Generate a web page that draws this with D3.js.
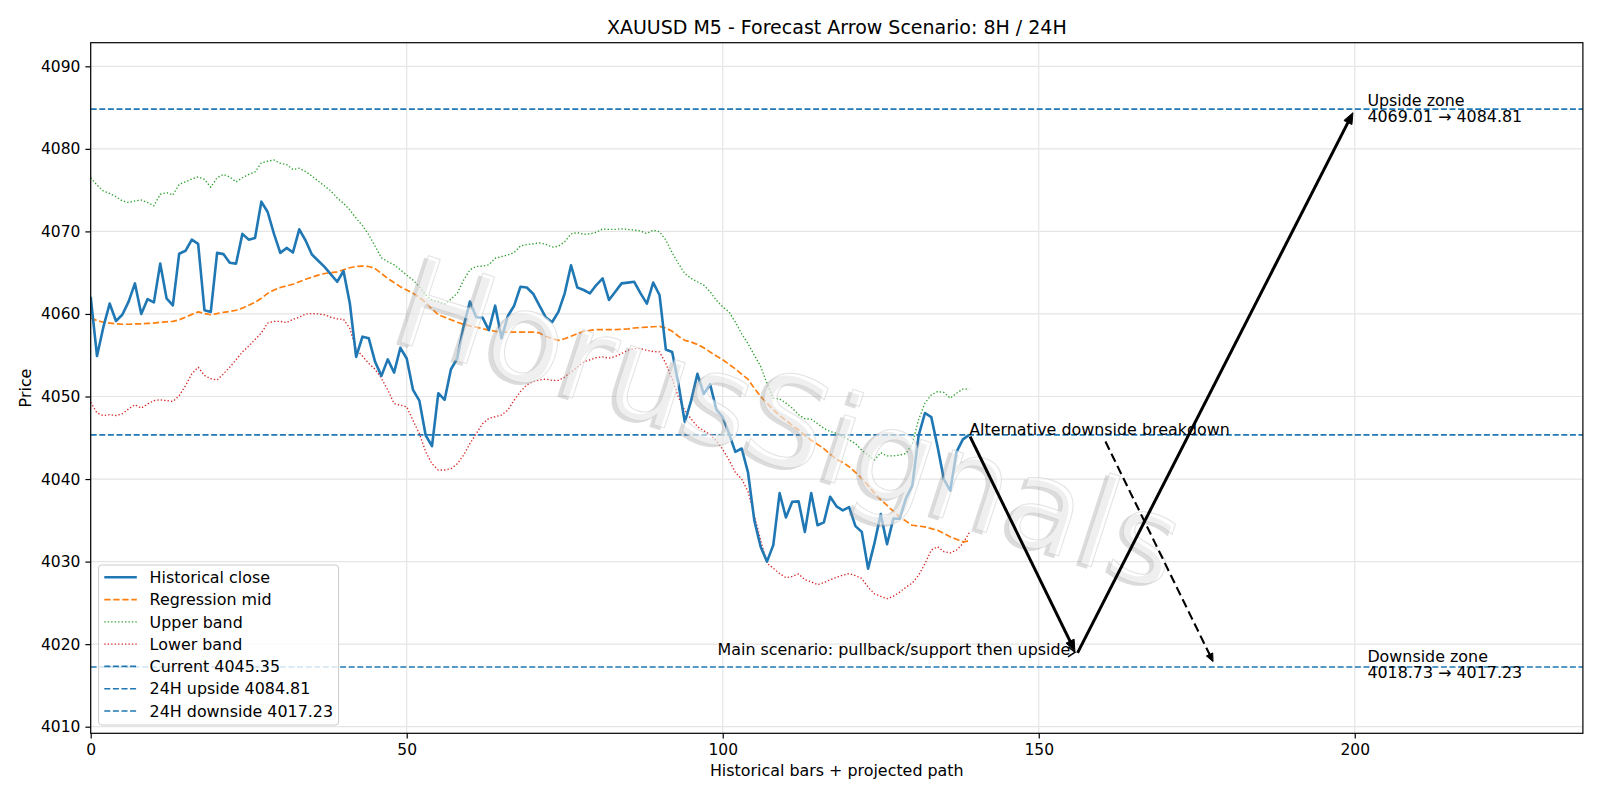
<!DOCTYPE html>
<html>
<head>
<meta charset="utf-8">
<script src="https://cdn.jsdelivr.net/npm/d3@7"></script>
<style>
  html, body { margin: 0; padding: 0; background: #fff; }
  svg { display: block; font-family: "DejaVu Sans", sans-serif; }
</style>
</head>
<body>
<svg id="chart" width="1600" height="800"></svg>
<script>
// ---------------- DATA ----------------
const titleText = "XAUUSD M5 - Forecast Arrow Scenario: 8H / 24H";
const xLabel = "Historical bars + projected path";
const yLabel = "Price";
const xTicks = [0, 50, 100, 150, 200];
const yTicks = [4010, 4020, 4030, 4040, 4050, 4060, 4070, 4080, 4090];
const xDomain = [0, 236.1];
const yDomain = [4009.2, 4092.86];

const closeVals = [4062.06,4054.9,4058.4,4061.26,4059.15,4059.9,4061.5,4063.7,4060.0,4061.8,
4061.4,4066.1,4061.9,4061.05,4067.3,4067.65,4069.0,4068.5,4060.45,4060.25,
4067.4,4067.25,4066.2,4066.1,4069.7,4069.0,4069.2,4073.6,4072.35,4069.7,
4067.4,4068.0,4067.45,4070.25,4068.9,4067.2,4066.45,4065.7,4064.8,4063.9,
4065.2,4061.3,4054.8,4057.25,4057.05,4054.2,4052.5,4054.5,4052.9,4055.9,
4054.6,4050.8,4049.5,4045.3,4044.0,4050.4,4049.6,4053.3,4054.6,4058.5,
4061.5,4059.6,4059.55,4058.05,4061.0,4057.05,4059.75,4061.0,4063.3,4063.2,
4062.45,4061.0,4059.6,4059.0,4060.25,4062.5,4065.9,4063.2,4062.9,4062.5,
4063.5,4064.3,4061.7,4062.7,4063.7,4063.8,4063.9,4062.5,4061.25,4063.8,
4062.3,4055.7,4055.4,4051.5,4046.9,4049.5,4052.75,4050.3,4051.5,4048.4,
4047.5,4045.5,4043.3,4043.7,4040.8,4035.0,4031.8,4030.0,4032.0,4038.3,
4035.35,4037.25,4037.3,4033.6,4038.3,4034.4,4034.75,4037.85,4036.7,4036.2,
4036.6,4034.3,4033.6,4029.15,4032.2,4035.75,4032.1,4035.2,4035.2,4037.65,
4039.2,4045.3,4048.0,4047.5,4043.9,4039.95,4038.6,4043.3,4044.8,4045.35];

const midVals = [4059.5,4059.2,4059.0,4058.9,4058.8,4058.75,4058.75,4058.8,4058.8,4058.85,
4058.9,4059.0,4059.05,4059.1,4059.3,4059.6,4059.95,4060.25,4060.05,4059.9,
4060.05,4060.2,4060.3,4060.45,4060.7,4061.05,4061.4,4061.9,4062.5,4062.9,
4063.2,4063.4,4063.6,4063.9,4064.2,4064.45,4064.7,4064.9,4065.0,4065.1,
4065.35,4065.6,4065.75,4065.8,4065.75,4065.5,4064.9,4064.3,4063.8,4063.3,
4062.9,4062.5,4062.0,4061.4,4060.6,4059.9,4059.6,4059.3,4059.0,4058.75,
4058.55,4058.4,4058.2,4058.05,4057.9,4057.8,4057.8,4057.8,4057.8,4057.8,
4057.8,4057.7,4057.3,4057.0,4056.8,4057.0,4057.3,4057.6,4057.9,4058.0,
4058.1,4058.1,4058.1,4058.1,4058.15,4058.2,4058.3,4058.35,4058.4,4058.45,
4058.5,4058.3,4057.9,4057.3,4056.8,4056.6,4056.3,4055.9,4055.4,4054.9,
4054.45,4053.9,4053.35,4052.7,4052.1,4051.0,4050.0,4049.2,4048.4,4047.7,
4047.1,4046.5,4045.95,4045.3,4044.7,4044.2,4043.7,4043.0,4042.4,4042.0,
4041.5,4040.8,4040.1,4039.2,4038.3,4037.5,4036.8,4036.1,4035.4,4034.9,
4034.4,4034.3,4034.2,4034.0,4033.8,4033.4,4033.0,4032.7,4032.4,4032.5];

const upperVals = [4076.5,4075.6,4074.9,4074.6,4074.2,4073.7,4073.5,4073.7,4073.8,4073.5,
4073.1,4074.5,4074.7,4074.4,4075.7,4076.0,4076.35,4076.6,4076.3,4075.35,
4076.5,4076.9,4076.6,4076.0,4076.5,4076.9,4077.2,4078.3,4078.5,4078.65,
4078.25,4078.1,4077.5,4077.65,4077.25,4076.7,4076.1,4075.5,4074.9,4074.05,
4073.4,4072.6,4071.6,4070.7,4069.6,4068.2,4066.8,4066.35,4065.95,4065.35,
4064.7,4064.1,4063.3,4062.3,4061.7,4061.5,4061.2,4061.8,4062.5,4064.1,
4065.35,4065.75,4065.8,4065.95,4066.75,4066.95,4067.15,4067.45,4068.25,4068.4,
4068.5,4068.6,4068.45,4068.1,4068.2,4068.75,4069.7,4069.85,4069.65,4069.7,
4069.9,4070.3,4070.25,4070.25,4070.3,4070.25,4070.15,4070.05,4069.75,4070.15,
4069.95,4068.95,4067.4,4066.1,4064.9,4064.3,4063.9,4063.5,4062.7,4061.65,
4060.85,4060.25,4059.0,4057.6,4056.4,4055.0,4053.65,4051.6,4049.8,4049.7,
4049.2,4048.6,4047.8,4047.3,4047.25,4046.7,4046.15,4045.75,4045.55,4045.15,
4044.75,4044.3,4043.5,4042.9,4042.3,4043.2,4042.8,4042.8,4042.9,4043.1,
4044.3,4047.2,4049.2,4050.2,4050.6,4050.5,4049.8,4050.4,4050.9,4050.9];

const lowerVals = [4049.3,4048.0,4047.7,4047.8,4047.7,4047.9,4048.5,4049.0,4048.6,4049.1,
4049.5,4049.6,4049.5,4049.4,4050.1,4051.3,4052.75,4053.55,4052.55,4052.15,
4052.0,4052.75,4053.55,4054.45,4055.4,4056.1,4056.9,4057.7,4058.9,4059.1,
4059.1,4058.95,4059.35,4059.6,4060.0,4060.05,4060.0,4059.9,4059.6,4059.4,
4059.35,4058.25,4055.7,4054.9,4054.0,4053.3,4052.2,4050.8,4049.15,4048.95,
4048.75,4047.1,4045.5,4043.3,4041.85,4041.1,4041.1,4041.25,4041.85,4042.9,
4044.3,4045.5,4046.7,4047.35,4047.55,4047.75,4048.35,4049.55,4050.6,4051.4,
4051.8,4052.0,4052.1,4051.95,4051.95,4052.35,4052.95,4053.55,4054.2,4054.45,
4054.7,4054.8,4054.65,4054.85,4055.2,4055.6,4055.8,4055.8,4055.6,4055.45,
4055.4,4054.0,4052.15,4049.9,4048.3,4047.3,4046.35,4045.85,4045.4,4044.6,
4043.6,4042.3,4040.8,4040.0,4038.5,4035.6,4032.6,4029.8,4029.2,4028.55,
4028.05,4028.2,4028.5,4027.8,4027.55,4027.2,4027.45,4027.8,4028.1,4028.35,
4028.55,4028.3,4027.95,4026.9,4026.1,4025.8,4025.5,4025.8,4026.3,4026.9,
4027.4,4028.35,4029.75,4031.4,4031.8,4031.2,4031.05,4031.4,4032.2,4033.5];

const currentPrice = 4045.35;
const upside24 = 4084.81;
const downside24 = 4017.23;
const levelValues = [currentPrice, upside24, downside24];

// main projected path (bar index, price)
const pathX = [139, 156, 200];
const pathY = [4045.35, 4018.73, 4084.81];
// alternative scenario target
const altX = 178, altY = 4017.23;

const altText = "Alternative downside breakdown";
const mainText = "Main scenario: pullback/support then upside";
const mainTextX = 155;
const upsideZoneLines = ["Upside zone", "4069.01 \u2192 4084.81"];
const downsideZoneLines = ["Downside zone", "4018.73 \u2192 4017.23"];
const zoneTextX = 202;
const upsideZoneY = 4084.9;
const downsideZoneY = 4017.55;

const legendLabels = ["Historical close", "Regression mid", "Upper band", "Lower band",
  "Current 4045.35", "24H upside 4084.81", "24H downside 4017.23"];
const watermarkText = "HorusSignals";

// ---------------- STYLES ----------------
const C_BLUE = "#1f77b4", C_ORANGE = "#ff7f0e", C_GREEN = "#2ca02c", C_RED = "#d62728";
const FS_TICK = 15.5, FS = 15.9, FS_TITLE = 19.0;
const margin = {left: 90.7, top: 42.7, right: 17.1, bottom: 66.7};
const W = 1600, H = 800;
const pw = W - margin.left - margin.right, ph = H - margin.top - margin.bottom;

const svg = d3.select("#chart");
const x = d3.scaleLinear().domain(xDomain).range([margin.left, margin.left + pw]);
const y = d3.scaleLinear().domain(yDomain).range([margin.top + ph, margin.top]);

const styles = {
  close: {stroke: C_BLUE, width: 2.6, dash: null},
  mid: {stroke: C_ORANGE, width: 1.7, dash: "6.3,2.7"},
  upper: {stroke: C_GREEN, width: 1.35, dash: "1.35,2.1"},
  lower: {stroke: C_RED, width: 1.35, dash: "1.35,2.1"},
  level: {stroke: C_BLUE, width: 1.6, dash: "6,2.6"}
};

svg.append("defs").append("clipPath").attr("id", "plotclip")
  .append("rect").attr("x", margin.left).attr("y", margin.top).attr("width", pw).attr("height", ph);

// grid
const grid = svg.append("g");
grid.selectAll("line.gx").data(xTicks).enter().append("line")
  .attr("x1", d => x(d)).attr("x2", d => x(d)).attr("y1", margin.top).attr("y2", margin.top + ph)
  .attr("stroke", "#e5e5e5").attr("stroke-width", 1.2);
grid.selectAll("line.gy").data(yTicks).enter().append("line")
  .attr("y1", d => y(d)).attr("y2", d => y(d)).attr("x1", margin.left).attr("x2", margin.left + pw)
  .attr("stroke", "#e5e5e5").attr("stroke-width", 1.2);

const plot = svg.append("g").attr("clip-path", "url(#plotclip)");

// horizontal levels
plot.selectAll("line.level").data(levelValues).enter().append("line")
  .attr("x1", margin.left).attr("x2", margin.left + pw)
  .attr("y1", d => y(d)).attr("y2", d => y(d))
  .attr("stroke", styles.level.stroke).attr("stroke-width", styles.level.width)
  .attr("stroke-dasharray", styles.level.dash);

const line = d3.line().x((d, i) => x(i)).y(d => y(d));
function drawSeries(vals, st) {
  const p = plot.append("path").datum(vals).attr("d", line).attr("fill", "none")
    .attr("stroke", st.stroke).attr("stroke-width", st.width).attr("stroke-linejoin", "round");
  if (st.dash) p.attr("stroke-dasharray", st.dash);
}
drawSeries(upperVals, styles.upper);
drawSeries(lowerVals, styles.lower);
drawSeries(midVals, styles.mid);
drawSeries(closeVals, styles.close);

// watermark
const wm = svg.append("g").attr("transform", `translate(790,423) rotate(18)`);
wm.append("text").attr("x", -3.5).attr("y", 3.5).attr("text-anchor", "middle").attr("dominant-baseline", "central")
  .attr("font-size", 125).attr("fill", "#8c8c8c").attr("fill-opacity", 0.3).text(watermarkText);
wm.append("text").attr("x", 0).attr("y", 0).attr("text-anchor", "middle").attr("dominant-baseline", "central")
  .attr("font-size", 125).attr("fill", "#ffffff").attr("fill-opacity", 0.55)
  .attr("stroke", "#c8c8c8").attr("stroke-opacity", 0.5).attr("stroke-width", 1).text(watermarkText);

// arrows
const ann = svg.append("g");
function arrow(x1, y1, x2, y2, o) {
  const dx = x2 - x1, dy = y2 - y1, L = Math.hypot(dx, dy);
  const ux = dx / L, uy = dy / L;
  const sx = x1 + ux * o.shrinkA, sy = y1 + uy * o.shrinkA;
  const ex = x2 - ux * o.shrinkB, ey = y2 - uy * o.shrinkB;
  const bx = ex - ux * o.headLen, by = ey - uy * o.headLen;
  const nx = -uy, ny = ux;
  const lineEnd = o.filled ? [bx + ux * 1, by + uy * 1] : [ex, ey];
  const l = ann.append("line").attr("x1", sx).attr("y1", sy).attr("x2", lineEnd[0]).attr("y2", lineEnd[1])
    .attr("stroke", "#000").attr("stroke-width", o.width);
  if (o.dash) l.attr("stroke-dasharray", o.dash);
  const pts = [[bx + nx * o.headW, by + ny * o.headW], [ex, ey], [bx - nx * o.headW, by - ny * o.headW]];
  if (o.filled) {
    ann.append("path").attr("d", "M" + pts.map(p => p.join(",")).join("L") + "Z")
      .attr("fill", "#000").attr("stroke", "#000").attr("stroke-width", 1).attr("stroke-linejoin", "miter");
  } else {
    ann.append("path").attr("d", "M" + pts.map(p => p.join(",")).join("L"))
      .attr("fill", "none").attr("stroke", "#000").attr("stroke-width", o.width);
  }
}
const mainOpts = {width: 3, shrinkA: 2, shrinkB: 4, headLen: 11, headW: 4.5, filled: true};
for (let k = 0; k < pathX.length - 1; k++) {
  arrow(x(pathX[k]), y(pathY[k]), x(pathX[k + 1]), y(pathY[k + 1]), mainOpts);
}

// alternative text + dashed arrow from its bbox
const altT = ann.append("text").attr("x", x(pathX[0])).attr("y", y(currentPrice))
  .attr("font-size", FS).attr("fill", "#000").text(altText);
const ab = altT.node().getBBox();
{
  const cx = ab.x + ab.width / 2, cy = ab.y + ab.height / 2;
  const tx = x(altX), ty = y(altY);
  const dx = tx - cx, dy = ty - cy;
  const t = (ab.y + ab.height - cy) / dy;
  const sx = cx + dx * t, sy = cy + dy * t;
  arrow(sx, sy, tx, ty, {width: 2.1, shrinkA: 3, shrinkB: 6, headLen: 8, headW: 3.5, filled: true, dash: "9,4.5"});
}

// main scenario text + tiny arrow
const mainT = ann.append("text").attr("x", x(mainTextX)).attr("y", y(pathY[1]))
  .attr("text-anchor", "end").attr("font-size", FS).attr("fill", "#000").text(mainText);
{
  const mb = mainT.node().getBBox();
  const cx = mb.x + mb.width / 2, cy = mb.y + mb.height / 2;
  const tx = x(pathX[1]), ty = y(pathY[1]);
  const dx = tx - cx, dy = ty - cy, L = Math.hypot(dx, dy);
  const ux = dx / L, uy = dy / L;
  const ex = tx - ux * 1.5, ey = ty - uy * 1.5 - 2.5;
  const hl = 7, hw = 5;
  ann.append("path")
    .attr("d", `M${ex - ux * hl - uy * hw},${ey - uy * hl + ux * hw}L${ex},${ey}L${ex - ux * hl + uy * hw},${ey - uy * hl - ux * hw}`)
    .attr("fill", "none").attr("stroke", "#000").attr("stroke-width", 1.5);
}

// zone texts
function zoneText(lines, yv) {
  const t = ann.append("text").attr("x", x(zoneTextX)).attr("y", y(yv)).attr("font-size", FS).attr("fill", "#000");
  const lh = 16;
  lines.forEach((s, i) => {
    t.append("tspan").attr("x", x(zoneTextX)).attr("y", y(yv) - 2.3 + i * lh).text(s);
  });
}
zoneText(upsideZoneLines, upsideZoneY);
zoneText(downsideZoneLines, downsideZoneY);

// axes frame
svg.append("rect").attr("x", margin.left).attr("y", margin.top).attr("width", pw).attr("height", ph)
  .attr("fill", "none").attr("stroke", "#000").attr("stroke-width", 1.2);

// axes
const xAxis = d3.axisBottom(x).tickValues(xTicks).tickFormat(d3.format("d")).tickSize(5.3).tickPadding(5);
const yAxis = d3.axisLeft(y).tickValues(yTicks).tickFormat(d3.format("d")).tickSize(5.3).tickPadding(5);
const gx = svg.append("g").attr("transform", `translate(0,${margin.top + ph})`).call(xAxis);
const gy = svg.append("g").attr("transform", `translate(${margin.left},0)`).call(yAxis);
[gx, gy].forEach(g => {
  g.select(".domain").remove();
  g.selectAll(".tick line").attr("stroke", "#000").attr("stroke-width", 1.2);
  g.selectAll(".tick text").attr("font-size", FS_TICK).attr("fill", "#000").attr("font-family", "DejaVu Sans");
});
gx.selectAll(".tick text").attr("dy", "0.74em");

// labels
svg.append("text").attr("x", margin.left + pw / 2).attr("y", 33.5).attr("text-anchor", "middle")
  .attr("font-size", FS_TITLE).attr("fill", "#000").text(titleText);
svg.append("text").attr("x", margin.left + pw / 2).attr("y", 776).attr("text-anchor", "middle")
  .attr("font-size", FS).attr("fill", "#000").text(xLabel);
svg.append("text").attr("transform", `translate(31,${margin.top + ph / 2}) rotate(-90)`)
  .attr("text-anchor", "middle").attr("font-size", FS).attr("fill", "#000").text(yLabel);

// legend
const lg = svg.append("g");
lg.append("rect").attr("x", 98.6).attr("y", 565).attr("width", 240).attr("height", 160)
  .attr("rx", 3).attr("fill", "#fff").attr("fill-opacity", 0.8).attr("stroke", "#cccccc").attr("stroke-width", 1);
const legendStyles = [styles.close, styles.mid, styles.upper, styles.lower, styles.level, styles.level, styles.level];
legendLabels.forEach((lab, i) => {
  const cy = 577.3 + i * 22.28;
  const st = legendStyles[i];
  const l = lg.append("line").attr("x1", 104.3).attr("x2", 136.8).attr("y1", cy).attr("y2", cy)
    .attr("stroke", st.stroke).attr("stroke-width", st.width);
  if (st.dash) l.attr("stroke-dasharray", st.dash);
  lg.append("text").attr("x", 149.6).attr("y", cy).attr("dy", "0.36em").attr("font-size", FS)
    .attr("fill", "#000").text(lab);
});
</script>
</body>
</html>
